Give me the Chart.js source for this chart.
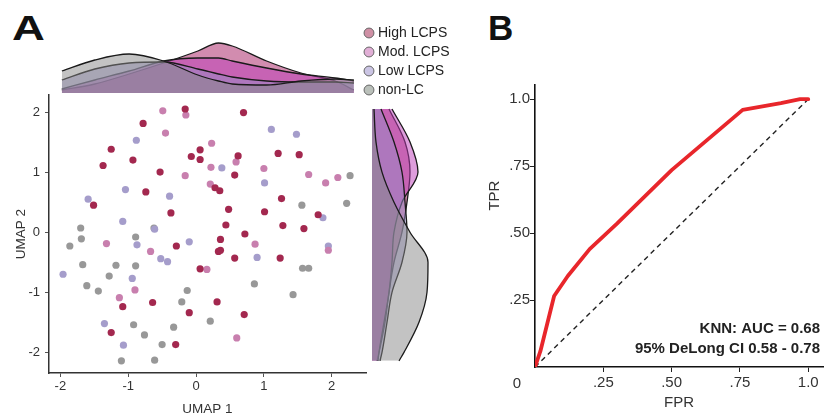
<!DOCTYPE html>
<html>
<head>
<meta charset="utf-8">
<script src="https://cdn.jsdelivr.net/npm/chart.js@4.4.1/dist/chart.umd.min.js"></script>
<style>
html,body{margin:0;padding:0;background:#fff;width:825px;height:417px;overflow:hidden;position:relative;}
canvas{position:absolute;}
.panel{position:absolute;font:bold 35px "Liberation Sans",Arial,sans-serif;line-height:35px;color:#111;transform-origin:0 0;}
</style>
</head>
<body>
<div class="panel" style="left:12px;top:10px;transform:scaleX(1.3)">A</div>
<div class="panel" style="left:488px;top:10px">B</div>
<canvas id="scatter" width="370" height="327" style="left:0;top:90px"></canvas>
<canvas id="topDens" width="321" height="71" style="left:49px;top:22px"></canvas>
<canvas id="rightDens" width="68" height="278" style="left:372px;top:95px"></canvas>
<canvas id="legendCv" width="240" height="96" style="left:362px;top:21px"></canvas>
<canvas id="roc" width="345" height="417" style="left:480px;top:0"></canvas>
<script>
// ---------------- DATA ----------------
const groupNames = ['High LCPS', 'Mod. LCPS', 'Low LCPS', 'non-LC'];

const highX = [-0.16,0.70,-0.78,-1.25,0.06,-0.07,0.06,0.62,1.21,1.52,-0.93,-1.37,-0.53,0.57,0.28,0.35,-0.74,-1.51,1.26,0.48,-0.37,1.01,1.80,0.44,1.28,1.59,0.36,0.72,-0.29,0.33,0.36,0.57,1.24,0.06,-1.08,-0.64,0.31,-0.10,0.71,-1.25,-0.30];
const highY = [2.05,1.99,1.81,1.38,1.37,1.26,1.21,1.27,1.31,1.29,1.20,1.11,1.00,0.95,0.74,0.69,0.67,0.45,0.56,0.38,0.32,0.34,0.29,0.12,0.11,0.06,-0.12,-0.03,-0.23,-0.32,-0.30,-0.43,-0.43,-0.61,-1.24,-1.17,-1.16,-1.34,-1.37,-1.67,-1.87];

const modX = [-0.49,-0.15,-0.45,0.23,0.59,0.22,1.00,-0.16,1.66,2.09,1.91,0.21,-1.32,0.87,1.95,-0.67,0.16,-0.90,-1.13,0.60];
const modY = [2.02,1.95,1.65,1.48,1.17,1.08,1.06,0.94,0.96,0.91,0.82,0.80,-0.19,-0.20,-0.30,-0.32,-0.62,-0.96,-1.09,-1.76];

const lowX = [1.11,1.48,-0.88,0.38,1.01,-1.04,-0.39,-1.59,1.87,-1.08,-0.61,-0.10,-0.87,1.95,-0.52,-0.42,0.90,-1.96,-0.94,-1.35,-1.07];
const lowY = [1.71,1.63,1.53,1.07,0.82,0.71,0.60,0.55,0.24,0.18,0.05,-0.16,-0.21,-0.23,-0.44,-0.49,-0.42,-0.70,-0.77,-1.52,-1.88];

const nonX = [2.27,1.56,2.22,-1.70,-0.62,-1.69,-0.89,-1.86,-1.67,-1.18,-0.89,1.57,1.66,-1.28,-1.61,-1.44,-0.13,0.86,1.43,-0.21,-0.92,-0.33,0.21,-0.76,-0.50,-1.10,-0.61];
const nonY = [0.94,0.45,0.48,0.07,0.07,-0.11,-0.08,-0.23,-0.54,-0.55,-0.56,-0.60,-0.60,-0.73,-0.89,-0.98,-0.97,-0.86,-1.04,-1.16,-1.54,-1.58,-1.48,-1.71,-1.87,-2.14,-2.13];

// marginal density along UMAP 1 (top)
const topU    = [-1.98,-1.5,-1.0,-0.5,0,0.3,0.5,1.0,1.5,2.0,2.27];
const topHigh = [0.03,0.09,0.19,0.30,0.42,0.50,0.47,0.32,0.20,0.12,0.03];
const topMod  = [0.04,0.13,0.22,0.32,0.35,0.35,0.32,0.25,0.19,0.15,0.12];
const topLow  = [0.13,0.24,0.30,0.31,0.24,0.19,0.16,0.12,0.11,0.11,0.10];
const topNon  = [0.22,0.33,0.39,0.32,0.18,0.12,0.09,0.08,0.12,0.14,0.13];

// marginal density along UMAP 2 (right)
const rightV    = [2.05,1.5,1.0,0.5,0,-0.5,-1.0,-1.5,-2.0,-2.14];
const rightHigh = [0.17,0.33,0.38,0.35,0.30,0.22,0.17,0.13,0.07,0.05];
const rightMod  = [0.20,0.38,0.46,0.30,0.22,0.20,0.17,0.12,0.07,0.06];
const rightLow  = [0.09,0.22,0.30,0.33,0.35,0.30,0.20,0.15,0.10,0.08];
const rightNon  = [0.02,0.04,0.10,0.22,0.38,0.56,0.55,0.47,0.32,0.27];

const umapTicks = [-2,-1,0,1,2];

// ROC
const rocFPR = [0,0.02,0.07,0.12,0.20,0.30,0.50,0.76,0.90,0.97,1.0];
const rocTPR = [0,0.06,0.265,0.34,0.44,0.535,0.735,0.96,0.985,1.0,1.0];
const chanceX = [0,1];
const chanceY = [0,1];
const rocTicks = [0.25,0.5,0.75,1.0];
const rocTickLabels = ['.25','.50','.75','1.0'];
const aucLines = ['KNN: AUC = 0.68','95% DeLong CI 0.58 - 0.78'];

// ---------------- STYLE ----------------
const pointColors = ['#a3284f','#c87fae','#a59dcb','#989898'];
const fillColors  = ['rgba(165,25,95,0.5)','rgba(190,60,185,0.5)','rgba(150,140,200,0.5)','rgba(135,135,135,0.5)'];
const legendFill  = ['rgba(175,70,105,0.6)','rgba(200,110,180,0.55)','rgba(160,150,205,0.55)','rgba(140,150,140,0.6)'];

const FONT = '"Liberation Sans", Arial, Helvetica, sans-serif';
Chart.defaults.font.family = FONT;
Chart.defaults.color = '#333';
Chart.defaults.animation = false;
Chart.defaults.responsive = false;
Chart.defaults.devicePixelRatio = 1;
Chart.defaults.events = [];
Chart.defaults.plugins.legend.display = false;
Chart.defaults.plugins.tooltip.enabled = false;

const X_MIN = -2.167, X_MAX = 2.505, Y_MIN = -2.343, Y_MAX = 2.283;

function setTicks(values){ return s => { s.ticks = values.map(v => ({value: v})); }; }
function fitSize(prop, size){ return s => { s[prop] = size; s.paddingTop = 0; s.paddingBottom = 0; s.paddingLeft = 0; s.paddingRight = 0; }; }
function pts(xs, ys){ return xs.map((x, i) => ({x: x, y: ys[i]})); }

// ---------------- SCATTER ----------------
const scatterGroups = [[highX,highY],[modX,modY],[lowX,lowY],[nonX,nonY]];
new Chart(document.getElementById('scatter'), {
  type: 'scatter',
  data: { datasets: scatterGroups.map((g, i) => ({
    label: groupNames[i], data: pts(g[0], g[1]),
    backgroundColor: pointColors[i], borderWidth: 0, pointRadius: 3.6
  })) },
  options: {
    layout: { padding: { top: 5, left: 0, right: 0, bottom: 0 } },
    scales: {
      x: {
        type: 'linear', min: X_MIN, max: X_MAX,
        afterBuildTicks: setTicks(umapTicks), afterFit: fitSize('height', 44),
        ticks: { font: { size: 13 }, color: '#333', padding: 2, callback: v => String(v) },
        grid: { drawOnChartArea: false, tickLength: 4, color: '#555' },
        border: { color: '#333', width: 1.5 },
        title: { display: true, text: 'UMAP 1', font: { size: 13.5 }, color: '#333', padding: { top: 0, bottom: 0 } }
      },
      y: {
        type: 'linear', min: Y_MIN, max: Y_MAX,
        afterBuildTicks: setTicks(umapTicks), afterFit: fitSize('width', 49),
        ticks: { font: { size: 13 }, color: '#333', padding: 5, callback: v => String(v) },
        grid: { drawOnChartArea: false, tickLength: 4, color: '#555' },
        border: { color: '#333', width: 1.5 },
        title: { display: true, text: 'UMAP 2', font: { size: 13.5 }, color: '#333', padding: { top: 13.5, bottom: 0 } }
      }
    }
  }
});

// ---------------- TOP DENSITY ----------------
const topSeries = [topHigh, topMod, topLow, topNon];
const densOrder = [3, 2, 1, 0]; // non-LC drawn on top
new Chart(document.getElementById('topDens'), {
  type: 'line',
  data: { datasets: densOrder.map(i => ({
    label: groupNames[i], data: pts(topU, topSeries[i]),
    backgroundColor: fillColors[i], borderColor: '#1a1a1a', borderWidth: 1.3,
    fill: 'origin', pointRadius: 0, cubicInterpolationMode: 'monotone'
  })) },
  options: {
    layout: { padding: 0 },
    scales: {
      x: { type: 'linear', display: false, min: X_MIN, max: X_MAX },
      y: { type: 'linear', display: false, min: 0, max: 0.71 }
    }
  }
});

// ---------------- RIGHT DENSITY ----------------
const rightSeries = [rightHigh, rightMod, rightLow, rightNon];
new Chart(document.getElementById('rightDens'), {
  type: 'line',
  data: { datasets: densOrder.map(i => ({
    label: groupNames[i], data: rightV.map((v, k) => ({x: rightSeries[i][k], y: v})),
    backgroundColor: fillColors[i], borderColor: '#1a1a1a', borderWidth: 1.3,
    fill: 'origin', pointRadius: 0, cubicInterpolationMode: 'monotone'
  })) },
  options: {
    indexAxis: 'y',
    layout: { padding: 0 },
    scales: {
      x: { type: 'linear', display: false, min: 0, max: 0.68 },
      y: { type: 'linear', display: false, min: Y_MIN, max: Y_MAX }
    }
  }
});

// ---------------- LEGEND ----------------
new Chart(document.getElementById('legendCv'), {
  type: 'line',
  data: { datasets: [] },
  options: {
    layout: { padding: 0 },
    scales: { x: { display: false }, y: { display: false } },
    plugins: {
      legend: {
        display: true, position: 'left', align: 'start', maxWidth: 120,
        labels: {
          usePointStyle: true, boxWidth: 4, boxHeight: 7, padding: 5,
          font: { size: 14 }, color: '#222',
          generateLabels: () => groupNames.map((t, i) => ({
            text: t, fillStyle: legendFill[i], strokeStyle: '#666', lineWidth: 1,
            pointStyle: 'circle', hidden: false, index: i, fontColor: '#222'
          }))
        }
      }
    }
  }
});

// ---------------- ROC ----------------
const rocText = {
  id: 'rocText',
  afterDraw(chart) {
    const { ctx, chartArea: a, scales } = chart;
    ctx.save();
    ctx.fillStyle = '#222';
    ctx.textBaseline = 'middle';
    ctx.font = 'bold 15px ' + FONT;
    ctx.textAlign = 'right';
    ctx.fillText(aucLines[0], a.right - 3, a.bottom - 38);
    ctx.fillText(aucLines[1], a.right - 3, a.bottom - 18);
    ctx.font = '15px ' + FONT;
    ctx.fillStyle = '#333';
    ctx.textAlign = 'center';
    ctx.fillText('0', scales.x.getPixelForValue(0) - 18, a.bottom + 17);
    ctx.translate(15, scales.y.getPixelForValue(0.64));
    ctx.rotate(-Math.PI / 2);
    ctx.fillText('TPR', 0, 0);
    ctx.restore();
  }
};

new Chart(document.getElementById('roc'), {
  type: 'scatter',
  data: { datasets: [
    { label: 'KNN', data: pts(rocFPR, rocTPR), showLine: true, borderColor: '#e8262b', borderWidth: 3.8,
      pointRadius: 0, tension: 0, borderJoinStyle: 'round', borderCapStyle: 'round' },
    { label: 'chance', data: pts(chanceX, chanceY), showLine: true, borderColor: '#222', borderWidth: 1.4,
      borderDash: [5, 4], pointRadius: 0 }
  ] },
  options: {
    layout: { padding: { top: 85, right: 2, left: 0, bottom: 0 } },
    scales: {
      x: {
        type: 'linear', min: 0, max: 1.054,
        afterBuildTicks: setTicks(rocTicks), afterFit: fitSize('height', 50),
        ticks: { font: { size: 15 }, color: '#333', padding: 2, callback: (v, i) => rocTickLabels[i] },
        grid: { drawOnChartArea: false, tickLength: 5, color: '#222' },
        border: { color: '#111', width: 1.6 },
        title: { display: true, text: 'FPR', font: { size: 15 }, color: '#333', padding: { top: 0, bottom: 5 } }
      },
      y: {
        type: 'linear', min: 0, max: 1.053,
        afterBuildTicks: setTicks(rocTicks), afterFit: fitSize('width', 55),
        ticks: { font: { size: 15 }, color: '#333', padding: 0, callback: (v, i) => rocTickLabels[i] },
        grid: { drawOnChartArea: false, tickLength: 5, color: '#222' },
        border: { color: '#111', width: 1.6 }
      }
    }
  },
  plugins: [rocText]
});
</script>
</body>
</html>
